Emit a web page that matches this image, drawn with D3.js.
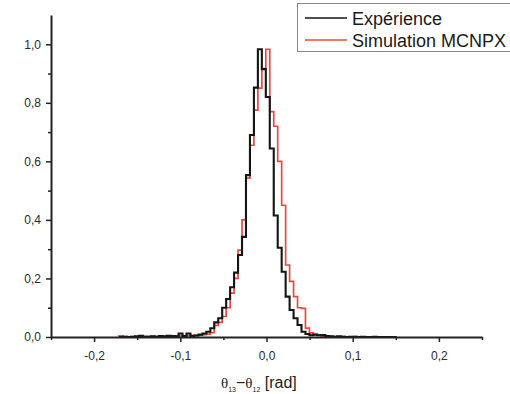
<!DOCTYPE html>
<html>
<head>
<meta charset="utf-8">
<script src="https://cdn.jsdelivr.net/npm/d3@7"></script>
<style>
  body { margin: 0; background: #fff; }
  svg { display: block; }
  .tick text { font-family: "Liberation Sans", Arial, sans-serif; font-size: 12px; fill: #2a2a2a; }
</style>
</head>
<body>
<div id="chart"></div>
<script>
// histogram bins: left edge of first bin and bin width (rad)
const binStart = -0.171;
const binWidth = 0.0046;

// normalised counts per bin
const experience = [
  0, 0.001, 0, 0.001, 0.002, 0.004, 0.001, 0.001, 0.002, 0.001,
  0.003, 0.002, 0.004, 0.003, 0.002, 0.012, 0.003, 0.012, 0.003, 0.005,
  0.008, 0.012, 0.018, 0.03, 0.05, 0.064, 0.10, 0.13, 0.17, 0.22,
  0.28, 0.342, 0.553, 0.69, 0.852, 0.983, 0.915, 0.82, 0.644, 0.415,
  0.305, 0.223, 0.138, 0.092, 0.064, 0.041, 0.018, 0.01, 0.006, 0.008,
  0.006, 0.007, 0.003, 0.002, 0.001, 0.002, 0.001, 0, 0.001, 0.001,
  0, 0.001, 0, 0, 0.001, 0, 0, 0, 0, 0
];

const simulation = [
  0.004, 0.001, 0, 0.001, 0, 0.001, 0.002, 0.001, 0.002, 0.001,
  0.002, 0.001, 0.003, 0.002, 0.003, 0.004, 0.003, 0.005, 0.006, 0.005,
  0.006, 0.008, 0.01, 0.015, 0.04, 0.05, 0.07, 0.10, 0.15, 0.20,
  0.297, 0.40, 0.543, 0.655, 0.775, 0.85, 0.917, 0.983, 0.77, 0.72,
  0.60, 0.45, 0.246, 0.19, 0.138, 0.10, 0.098, 0.03, 0.014, 0.008,
  0.006, 0.003, 0.002, 0.001, 0.001, 0, 0.001, 0, 0, 0.001,
  0, 0, 0, 0, 0, 0, 0, 0, 0, 0
];

const xMajor = [-0.2, -0.1, 0, 0.1, 0.2];
const xMinor = [-0.25, -0.15, -0.05, 0.05, 0.15, 0.25];
const yMajor = [0, 0.2, 0.4, 0.6, 0.8, 1.0];
const yMinor = [0.1, 0.3, 0.5, 0.7, 0.9];

const seriesNames = ["Expérience", "Simulation MCNPX"];
const colors = ["#141414", "#ec4a37"];

const width = 510, height = 394;

const svg = d3.select("#chart")
  .append("svg")
  .attr("width", width)
  .attr("height", height);

svg.append("rect").attr("width", width).attr("height", height).attr("fill", "#fff");

const x = d3.scaleLinear().domain([-0.25, 0.25]).range([51, 482]);
const y = d3.scaleLinear().domain([0, 1.1]).range([337, 15]);

const fmt = v => d3.format(".1f")(v).replace(".", ",").replace("−", "-");

// step outline of one histogram
function stepPoints(values) {
  const pts = [[binStart, 0]];
  values.forEach((v, i) => pts.push([binStart + i * binWidth, v]));
  pts.push([binStart + values.length * binWidth, 0]);
  return pts;
}

const line = d3.line()
  .x(d => x(d[0]))
  .y(d => y(d[1]))
  .curve(d3.curveStepAfter);

// simulation first, experience drawn on top
svg.append("path")
  .attr("d", line(stepPoints(simulation)))
  .attr("fill", "none")
  .attr("stroke", colors[1])
  .attr("stroke-width", 1.7);

svg.append("path")
  .attr("d", line(stepPoints(experience)))
  .attr("fill", "none")
  .attr("stroke", colors[0])
  .attr("stroke-width", 2.1);

// axes
svg.append("g")
  .attr("transform", `translate(${x.range()[0]},0)`)
  .call(d3.axisLeft(y).tickValues(yMajor).tickSize(5).tickSizeOuter(0).tickPadding(5).tickFormat(fmt));
svg.append("g")
  .attr("transform", `translate(${x.range()[0]},0)`)
  .call(d3.axisLeft(y).tickValues(yMinor).tickSize(3).tickSizeOuter(0).tickFormat(""))
  .select(".domain").remove();

svg.append("g")
  .attr("transform", `translate(0,${y(0)})`)
  .call(d3.axisBottom(x).tickValues(xMajor).tickSize(5).tickSizeOuter(0).tickPadding(9).tickFormat(fmt));
svg.append("g")
  .attr("transform", `translate(0,${y(0)})`)
  .call(d3.axisBottom(x).tickValues(xMinor).tickSize(3).tickSizeOuter(0).tickFormat(""))
  .select(".domain").remove();

svg.selectAll(".domain").attr("stroke", "#222").attr("stroke-width", 2);
svg.selectAll(".tick line").attr("stroke", "#222").attr("stroke-width", 1.5);

// x axis title
const title = svg.append("text")
  .attr("x", 221)
  .attr("y", 388)
  .attr("fill", "#222")
  .style("font-family", "Liberation Sans, Arial, sans-serif")
  .style("font-size", "16px");
title.append("tspan").style("font-family", "Liberation Serif, serif").style("font-size", "15px").text("θ");
title.append("tspan").attr("dy", 4).style("font-size", "7px").text("13");
title.append("tspan").attr("dy", -4).text("−");
title.append("tspan").style("font-family", "Liberation Serif, serif").style("font-size", "15px").text("θ");
title.append("tspan").attr("dy", 4).style("font-size", "7px").text("12");
title.append("tspan").attr("dy", -4).text(" [rad]");

// legend
const legend = svg.append("g");
legend.append("rect")
  .attr("x", 297.5).attr("y", 3.5)
  .attr("width", 230).attr("height", 48)
  .attr("fill", "#fff")
  .attr("stroke", "#888")
  .attr("stroke-width", 1);

seriesNames.forEach((name, i) => {
  const ly = 18 + i * 22;
  legend.append("line")
    .attr("x1", 305).attr("x2", 347)
    .attr("y1", ly).attr("y2", ly)
    .attr("stroke", colors[i])
    .attr("stroke-width", 1.6);
  legend.append("text")
    .attr("x", 352).attr("y", ly + 6.5)
    .attr("fill", "#1a1a1a")
    .style("font-family", "Liberation Sans, Arial, sans-serif")
    .style("font-size", "18px")
    .text(name);
});
</script>
</body>
</html>
